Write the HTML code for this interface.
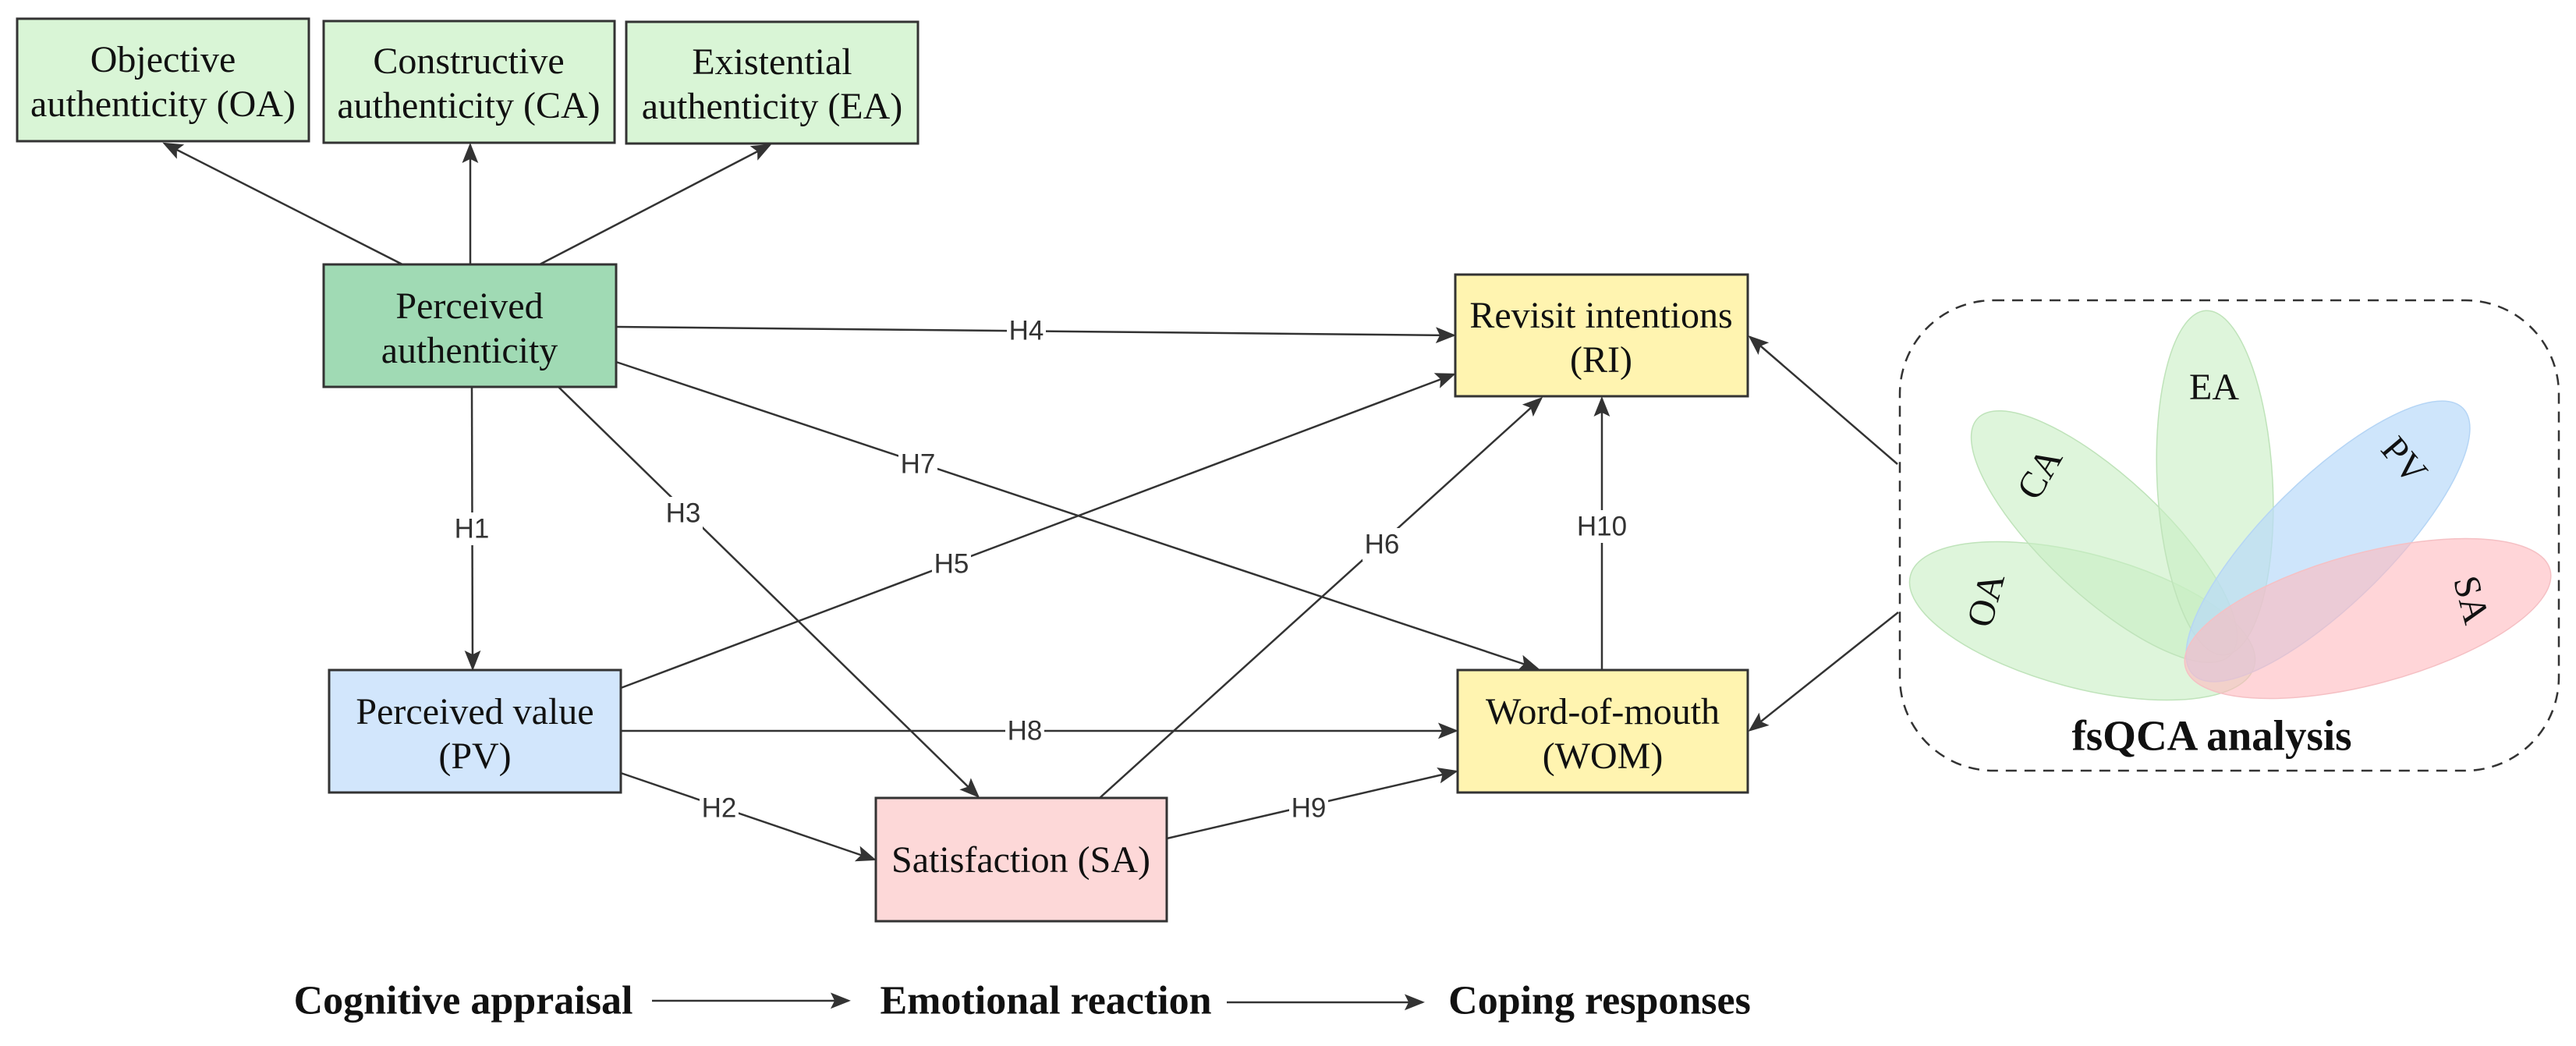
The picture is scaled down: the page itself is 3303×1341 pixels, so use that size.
<!DOCTYPE html>
<html><head><meta charset="utf-8"><style>
html,body{margin:0;padding:0;background:#fff;}
svg{display:block;}
.bt{font-family:"Liberation Serif",serif;font-size:48px;fill:#111;text-anchor:middle;}
.lb{font-family:"Liberation Sans",sans-serif;font-size:35px;fill:#333;text-anchor:middle;dominant-baseline:central;}
.bg{fill:#fff;}
.ln{stroke:#333;stroke-width:2.5;fill:none;marker-end:url(#ah);}
.bx{stroke:#333;stroke-width:3;}
.bold{font-family:"Liberation Serif",serif;font-weight:bold;font-size:52px;fill:#111;text-anchor:middle;dominant-baseline:central;}
</style></head><body>
<svg width="3303" height="1341" viewBox="0 0 3303 1341" xmlns="http://www.w3.org/2000/svg">
<defs>
<marker id="ah" markerWidth="10" markerHeight="8" refX="9" refY="4" orient="auto" markerUnits="userSpaceOnUse" viewBox="0 0 10 8" style="overflow:visible">
<path d="M0,0 L10,4 L0,8 L2,4 Z" fill="#333" transform="scale(2.6) translate(-5.4,-2.5)"/>
</marker>
</defs>
<rect width="3303" height="1341" fill="#fff"/>

<rect class="bx" x="22" y="24" width="374" height="157" fill="#d9f5d6"/>
<text class="bt" x="209" y="92">Objective</text><text class="bt" x="209" y="149">authenticity (OA)</text>
<rect class="bx" x="415" y="27" width="373" height="156" fill="#d9f5d6"/>
<text class="bt" x="601" y="94">Constructive</text><text class="bt" x="601" y="151">authenticity (CA)</text>
<rect class="bx" x="803" y="28" width="374" height="156" fill="#d9f5d6"/>
<text class="bt" x="990" y="95">Existential</text><text class="bt" x="990" y="152">authenticity (EA)</text>

<rect class="bx" x="415" y="339" width="375" height="157" fill="#a0dab4"/>
<text class="bt" x="602" y="408">Perceived</text><text class="bt" x="602" y="465">authenticity</text>

<rect class="bx" x="422" y="859" width="374" height="157" fill="#d2e6fc"/>
<text class="bt" x="609" y="928">Perceived value</text><text class="bt" x="609" y="985">(PV)</text>

<rect class="bx" x="1123" y="1023" width="373" height="158" fill="#fdd8d8"/>
<text class="bt" x="1309" y="1118">Satisfaction (SA)</text>

<rect class="bx" x="1866" y="352" width="375" height="156" fill="#fff4b0"/>
<text class="bt" x="2053" y="420">Revisit intentions</text><text class="bt" x="2053" y="477">(RI)</text>

<rect class="bx" x="1869" y="859" width="372" height="157" fill="#fff4b0"/>
<text class="bt" x="2055" y="928">Word-of-mouth</text><text class="bt" x="2055" y="985">(WOM)</text>

<line class="ln" x1="516" y1="339" x2="211" y2="184"/>
<line class="ln" x1="603" y1="339" x2="603" y2="186"/>
<line class="ln" x1="692" y1="339" x2="987" y2="186"/>
<line class="ln" x1="790" y1="419" x2="1864" y2="430"/>
<line class="ln" x1="790" y1="464" x2="1971" y2="857"/>
<line class="ln" x1="605" y1="496" x2="606" y2="857"/>
<line class="ln" x1="716" y1="496" x2="1254" y2="1021"/>
<line class="ln" x1="796" y1="882" x2="1864" y2="480"/>
<line class="ln" x1="796" y1="937" x2="1867" y2="937"/>
<line class="ln" x1="796" y1="991" x2="1121" y2="1102"/>
<line class="ln" x1="1410" y1="1023" x2="1976" y2="511"/>
<line class="ln" x1="1496" y1="1075" x2="1867" y2="989"/>
<line class="ln" x1="2054" y1="859" x2="2054" y2="511"/>
<line class="ln" x1="2433" y1="595" x2="2244" y2="432"/>
<line class="ln" x1="2434" y1="785" x2="2244" y2="936"/>

<g>
<rect class="bg" x="1291" y="403" width="50" height="42"/><text class="lb" x="1316" y="424">H4</text>
<rect class="bg" x="1152" y="574" width="50" height="42"/><text class="lb" x="1177" y="595">H7</text>
<rect class="bg" x="580" y="657" width="50" height="42"/><text class="lb" x="605" y="678">H1</text>
<rect class="bg" x="851" y="637" width="50" height="42"/><text class="lb" x="876" y="658">H3</text>
<rect class="bg" x="1195" y="702" width="50" height="42"/><text class="lb" x="1220" y="723">H5</text>
<rect class="bg" x="1289" y="916" width="50" height="42"/><text class="lb" x="1314" y="937">H8</text>
<rect class="bg" x="897" y="1015" width="50" height="42"/><text class="lb" x="922" y="1036">H2</text>
<rect class="bg" x="1747" y="677" width="50" height="42"/><text class="lb" x="1772" y="698">H6</text>
<rect class="bg" x="1653" y="1015" width="50" height="42"/><text class="lb" x="1678" y="1036">H9</text>
<rect class="bg" x="2019" y="654" width="70" height="42"/><text class="lb" x="2054" y="675">H10</text>
</g>

<rect x="2436" y="385" width="845" height="603" rx="120" ry="120" fill="none" stroke="#333" stroke-width="2.5" stroke-dasharray="14,10"/>
<g stroke="#bfe3ba" stroke-width="1.5">
<ellipse cx="2670" cy="796" rx="228" ry="86" transform="rotate(14.8 2670 796)" fill="rgba(200,238,195,0.6)"/>
<ellipse cx="2698" cy="688" rx="222" ry="76" transform="rotate(43 2698 688)" fill="rgba(200,238,195,0.6)"/>
<ellipse cx="2840" cy="619" rx="74" ry="221" transform="rotate(-3 2840 619)" fill="rgba(200,238,195,0.6)"/>
<ellipse cx="2985" cy="694" rx="243" ry="80" transform="rotate(-44.6 2985 694)" fill="rgba(185,218,250,0.7)" stroke="#b5d5f5"/>
<ellipse cx="3036" cy="793" rx="242" ry="84" transform="rotate(-15 3036 793)" fill="rgba(255,185,190,0.6)" stroke="#f5c0c4"/>
</g>
<text class="bt" x="2839" y="512">EA</text>
<text class="bt" transform="translate(2615,607) rotate(-60)" y="16">CA</text>
<text class="bt" transform="translate(3083,590) rotate(50)" y="16">PV</text>
<text class="bt" transform="translate(2546,769) rotate(-75)" y="16">OA</text>
<text class="bt" transform="translate(3169,769) rotate(75)" y="16">SA</text>
<text class="bold" x="2836" y="943" style="font-size:55px">fsQCA analysis</text>

<text class="bold" x="594" y="1283">Cognitive appraisal</text>
<line class="ln" x1="836" y1="1283" x2="1088" y2="1283"/>
<text class="bold" x="1341" y="1283">Emotional reaction</text>
<line class="ln" x1="1573" y1="1285" x2="1824" y2="1285"/>
<text class="bold" x="2051" y="1283">Coping responses</text>
</svg>
</body></html>
